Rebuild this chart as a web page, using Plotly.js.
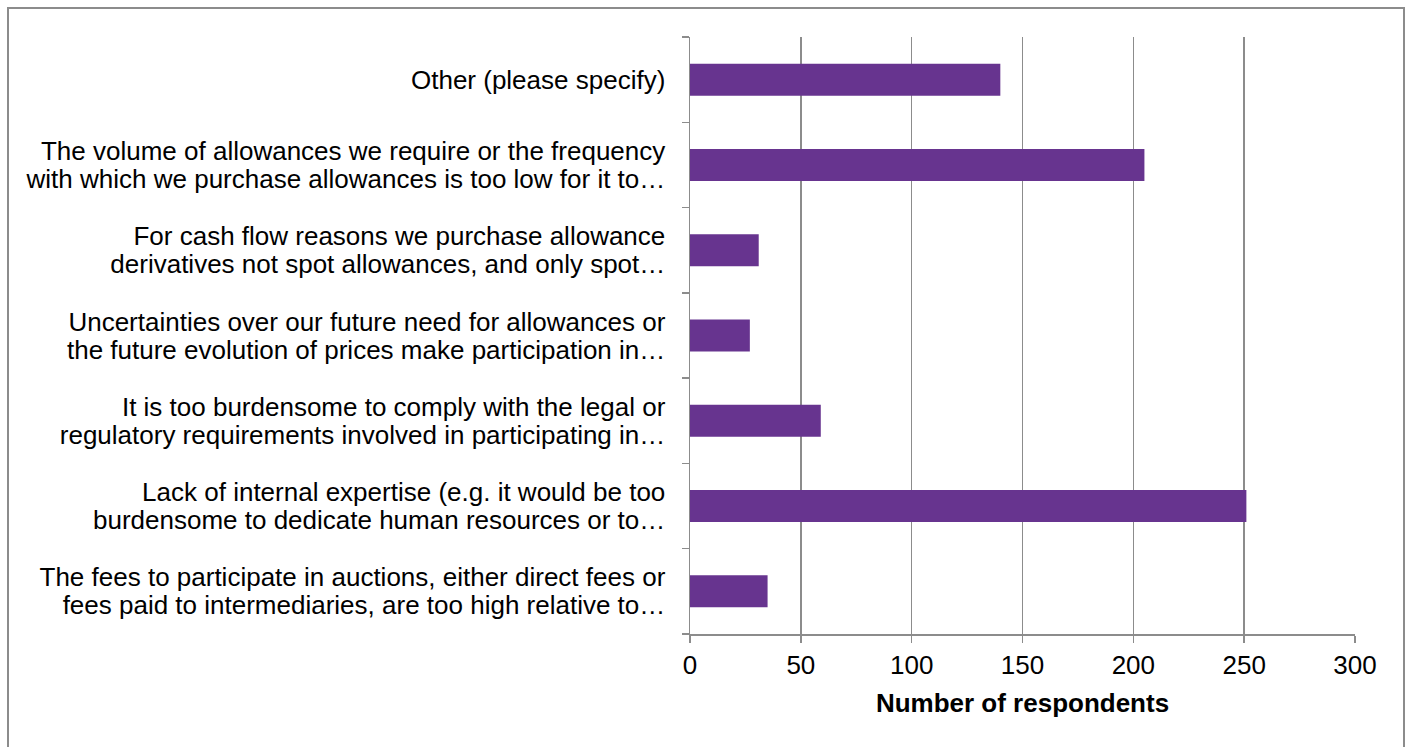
<!DOCTYPE html>
<html>
<head>
<meta charset="utf-8">
<script src="https://cdn.plot.ly/plotly-3.0.1.min.js"></script>
<style>
html,body{margin:0;padding:0;background:#fff;}
#chart{width:1409px;height:747px;}
#frame{position:absolute;left:7px;top:7px;width:1398px;height:760px;border:2px solid #8c8c8c;pointer-events:none;box-sizing:border-box;}
</style>
</head>
<body>
<div id="chart"></div>
<div id="frame"></div>
<script>
var categories = [
  "The fees to participate in auctions, either direct fees or<br>fees paid to intermediaries, are too high relative to…",
  "Lack of internal expertise (e.g. it would be too<br>burdensome to dedicate human resources or to…",
  "It is too burdensome to comply with the legal or<br>regulatory requirements involved in participating in…",
  "Uncertainties over our future need for allowances or<br>the future evolution of prices make participation in…",
  "For cash flow reasons we purchase allowance<br>derivatives not spot allowances, and only spot…",
  "The volume of allowances we require or the frequency<br>with which we purchase allowances is too low for it to…",
  "Other (please specify)"
];
var respondents = [35, 251, 59, 27, 31, 205, 140];
var xTicks = [0, 50, 100, 150, 200, 250, 300];
var xTitle = "Number of respondents";

var trace = {
  type: 'bar',
  orientation: 'h',
  y: categories,
  x: respondents,
  marker: {color: '#67348f', line: {width: 0}},
  hoverinfo: 'x+y'
};

var layout = {
  width: 1409,
  height: 747,
  margin: {l: 690, r: 54, t: 37, b: 113},
  paper_bgcolor: '#ffffff',
  plot_bgcolor: '#ffffff',
  bargap: 0.625,
  showlegend: false,
  font: {family: 'Liberation Sans, Arial, sans-serif', color: '#000', size: 26},
  xaxis: {
    range: [0, 300],
    tickvals: xTicks,
    ticktext: xTicks.map(String),
    showgrid: true,
    gridcolor: '#8c8c8c',
    gridwidth: 1.5,
    zeroline: false,
    showline: true,
    linecolor: '#8c8c8c',
    linewidth: 1.5,
    ticks: 'outside',
    ticklen: 7,
    tickcolor: '#8c8c8c',
    tickwidth: 1.5,
    tickfont: {size: 26, color: '#000'},
    title: {text: '<b>' + xTitle + '</b>', font: {size: 26, color: '#000'}, standoff: 15},
    fixedrange: true,
    automargin: false
  },
  yaxis: {
    type: 'category',
    categoryorder: 'array',
    categoryarray: categories,
    showgrid: false,
    zeroline: false,
    showline: true,
    linecolor: '#8c8c8c',
    linewidth: 1.5,
    ticks: 'outside',
    tickson: 'boundaries',
    ticklen: 7,
    tickcolor: '#8c8c8c',
    tickwidth: 1.5,
    ticklabelstandoff: 18,
    tickfont: {size: 26, color: '#000'},
    automargin: false,
    fixedrange: true
  }
};

function tightenLines() {
  var spacing = 1.08, base = 1.3;
  var shift = (base - spacing) / 2;
  document.querySelectorAll('#chart .ytick text').forEach(function (t) {
    var lines = t.querySelectorAll('tspan.line');
    if (lines.length === 2) {
      lines[0].setAttribute('dy', shift.toFixed(3) + 'em');
      lines[1].setAttribute('dy', (base - shift).toFixed(3) + 'em');
    }
  });
}

Plotly.newPlot('chart', [trace], layout, {displayModeBar: false, staticPlot: true}).then(tightenLines);
</script>
</body>
</html>
